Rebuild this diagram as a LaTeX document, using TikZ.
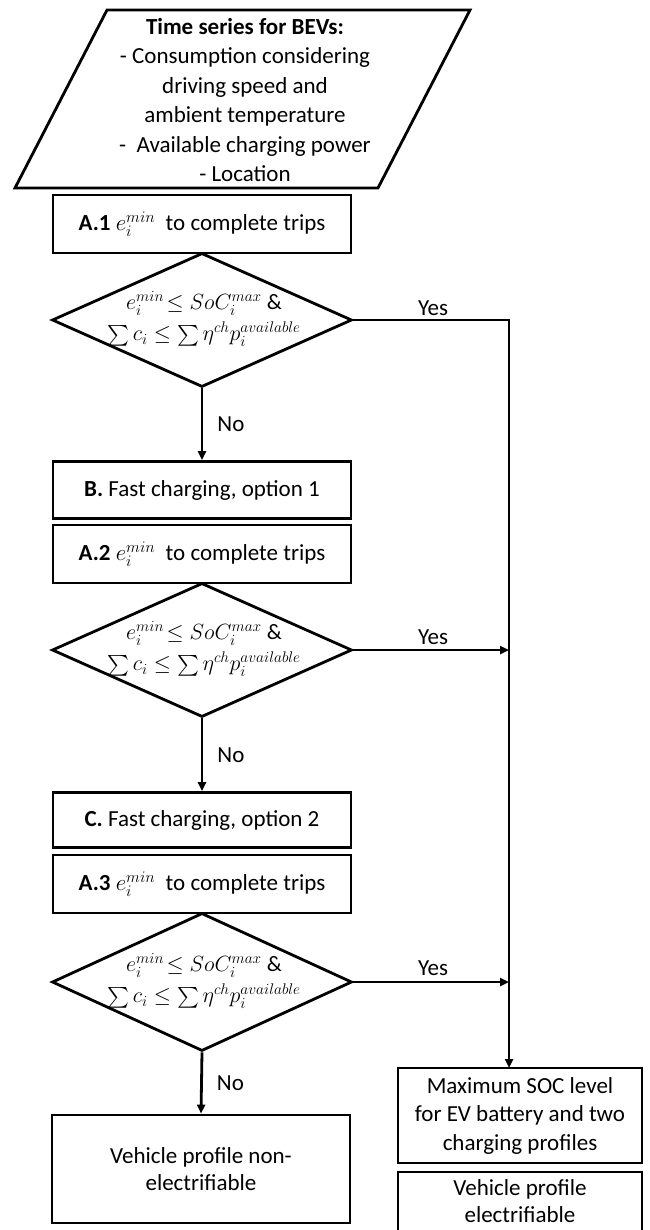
\RequirePackage{fix-cm}
\documentclass[tikz,border=0pt]{standalone}
\usepackage{amsmath}
\usepackage{fontspec}
\setmainfont{Carlito}
\usetikzlibrary{shapes.geometric,arrows.meta,calc}
\newcommand{\condtext}{$e_i^{min}\!\leq SoC_i^{max}$ \&\\[6pt]$\sum c_i \leq \sum \eta^{ch} p_i^{available}$}
\begin{document}
\begin{tikzpicture}[x=1pt,y=-1pt,
  every node/.style={font=\fontsize{23}{29}\selectfont},
  ln/.style={line width=2.8pt},
  box/.style={draw,ln,rectangle,inner sep=0pt,minimum width=298pt,align=center},
  dia/.style={draw,ln,diamond,inner sep=0pt,minimum width=300pt,minimum height=134pt},
  arr/.style={ln,-{Triangle[length=9pt,width=8pt]}},
  lbl/.style={inner sep=0pt},
  dtext/.style={lbl,align=center,font=\fontsize{22}{24}\selectfont}
]
\useasboundingbox (0,0) rectangle (649,1230);
\clip (0,0) rectangle (649,1230);

% input parallelogram
\draw[ln,line join=miter] (107,10) -- (470,10) -- (378,188) -- (15,188) -- cycle;
\node[lbl,align=center,font=\fontsize{23}{29.5}\selectfont] (in) at (245,100)
  {\textbf{Time series for BEVs:}\\- Consumption considering\\driving speed and\\ambient temperature\\-~ Available charging power\\- Location};

% left column
\node[box,minimum height=58pt] (A1) at (202,224) {\textbf{A.1} $e_i^{min}$\ \ to complete trips};
\node[dia] (d1) at (202,320) {};
\node[dtext] (t1) at (204,319) {\condtext};

\node[box,minimum height=57pt] (B) at (202,490) {\textbf{B.} Fast charging, option 1};
\node[box,minimum height=58pt] (A2) at (202,554) {\textbf{A.2} $e_i^{min}$\ \ to complete trips};
\node[dia] (d2) at (202,650) {};
\node[dtext] (t2) at (204,649) {\condtext};

\node[box,minimum height=55pt] (C) at (202,820) {\textbf{C.} Fast charging, option 2};
\node[box,minimum height=58pt] (A3) at (202,884) {\textbf{A.3} $e_i^{min}$\ \ to complete trips};
\node[dia,minimum height=138pt] (d3) at (202,982) {};
\node[dtext] (t3) at (204,981) {\condtext};

\node[box,minimum height=108pt,font=\fontsize{23}{27}\selectfont] (N) at (201,1169) {Vehicle profile non-\\electrifiable};

% right column
\node[box,minimum width=244pt,minimum height=95pt,font=\fontsize{23}{28.5}\selectfont] (M) at (520,1115.5) {Maximum SOC level\\for EV battery and two\\charging profiles};
\node[draw,ln,rectangle,minimum width=244pt,minimum height=70pt] (E) at (520,1207) {};
\node[lbl,align=center,font=\fontsize{23}{27}\selectfont] (Et) at (520,1201) {Vehicle profile\\electrifiable};

\coordinate (mt) at (509,1068);

% connectors
\draw[arr] (d1.south) -- node[lbl,anchor=west,xshift=14pt] (no1) {No} (B.north);
\draw[arr] (d2.south) -- node[lbl,anchor=west,xshift=14pt] (no2) {No} (C.north);
\draw[arr] (d3.south) -- node[lbl,anchor=west,xshift=14pt] (no3) {No} (N.north);

\draw[arr,line join=miter] (d1.east) -- (d1.east -| mt) -- (mt);
\draw[arr] (d2.east) -- (d2.east -| mt);
\draw[arr] (d3.east) -- (d3.east -| mt);

\node[lbl] (y1) at (433,308) {Yes};
\node[lbl] (y2) at (433,637) {Yes};
\node[lbl] (y3) at (433,968) {Yes};
\end{tikzpicture}
\end{document}
